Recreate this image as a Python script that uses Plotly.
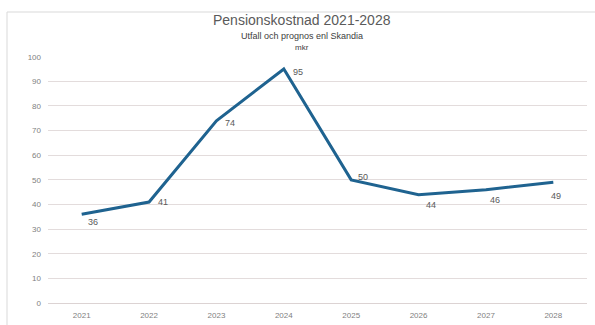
import plotly.graph_objects as go

# Pension cost per year (MSEK), outcome and forecast
years = ["2021", "2022", "2023", "2024", "2025", "2026", "2027", "2028"]
values = [36, 41, 74, 95, 50, 44, 46, 49]
y_ticks = [0, 10, 20, 30, 40, 50, 60, 70, 80, 90, 100]

title_text = "Pensionskostnad 2021-2028"
subtitle_text = "Utfall och prognos enl Skandia"
unit_text = "mkr"

# per-label pixel offsets for the data labels (x, y)
label_offsets = [(11, -8), (14, 0), (14, -2), (14, -3), (12, 3), (12, -10), (9, -10), (3, -14)]

W, H = 595, 325
FONT = "Liberation Sans, Arial, sans-serif"

fig = go.Figure()
fig.add_trace(go.Scatter(
    x=years, y=values, mode="lines",
    line=dict(color="#1f6390", width=3),
    hoverinfo="skip", showlegend=False,
))

# data labels, placed by category index
for i, (v, (dx, dy)) in enumerate(zip(values, label_offsets)):
    fig.add_annotation(
        x=i, y=v, text=str(v), showarrow=False,
        xshift=dx, yshift=dy,
        font=dict(family=FONT, size=9, color="#595959"),
    )

# centred heading block
for text, ypix, size, color in [
    (title_text, 20, 14, "#5a5a5a"),
    (subtitle_text, 36, 9, "#404040"),
    (unit_text, 48, 8, "#404040"),
]:
    fig.add_annotation(x=302 / W, y=1 - ypix / H, xref="paper", yref="paper",
                       xanchor="center", yanchor="middle",
                       text=text, showarrow=False,
                       font=dict(family=FONT, size=size, color=color))

# chart-area frame
fig.add_shape(type="rect", xref="paper", yref="paper",
              x0=7 / W, x1=1.02, y0=-0.02, y1=1 - 12 / H,
              line=dict(color="#d9d9d9", width=1), layer="below")

fig.update_layout(
    width=W, height=H,
    margin=dict(l=0, r=0, t=0, b=0),
    paper_bgcolor="white", plot_bgcolor="white",
    xaxis=dict(
        type="category", range=[-0.5, 7.5],
        domain=[48 / W, 587 / W], automargin=False,
        showgrid=False, zeroline=False, showline=False, ticks="",
        ticklabelstandoff=6,
        tickfont=dict(family=FONT, size=8, color="#7f7f7f"),
    ),
    yaxis=dict(
        range=[0, 100], domain=[22 / H, 1 - 56.7 / H], automargin=False,
        tickvals=y_ticks,
        showgrid=True, gridcolor="#e3dcdc", gridwidth=1,
        zeroline=True, zerolinecolor="#dcd3d3", zerolinewidth=1,
        showline=False, ticks="", ticklabelstandoff=6,
        tickfont=dict(family=FONT, size=8, color="#7f7f7f"),
    ),
)

fig.write_html("out.html")
